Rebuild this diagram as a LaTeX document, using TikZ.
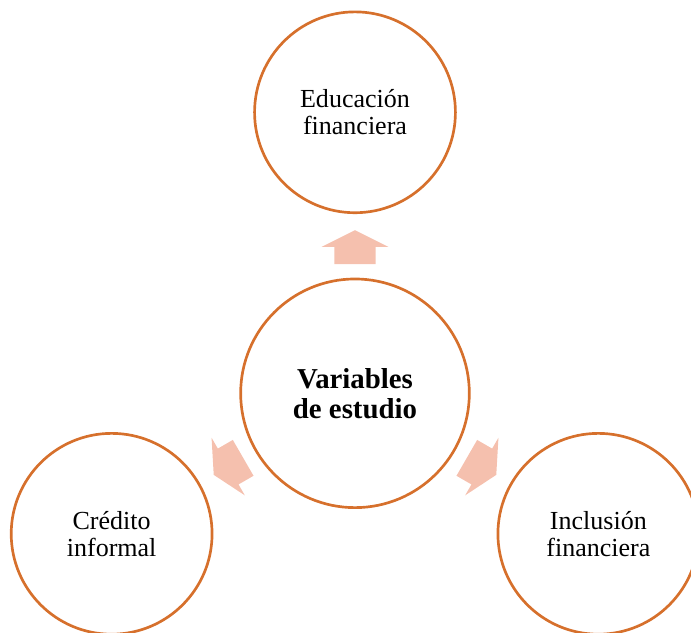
\documentclass[tikz,border=0pt]{standalone}
\usepackage{fontspec}
\setmainfont{Liberation Serif}
\usetikzlibrary{calc}

\definecolor{naranja}{RGB}{214,112,44}
\definecolor{salmon}{RGB}{245,192,174}

\tikzset{
  circulo/.style={circle, draw=naranja, line width=1.9pt, align=center,
    minimum size=5.02cm, font=\fontsize{18.5}{19.2}\selectfont},
  pics/flecha/.style={code={
    \fill[salmon] (-17,-20.7) -- (0.3,-20.7) -- (0.3,-33.3) -- (17,0)
      -- (0.3,33.3) -- (0.3,20.7) -- (-17,20.7) -- cycle;}}
}

\begin{document}
\begin{tikzpicture}[x=0.025cm, y=0.025cm]
\useasboundingbox (-355,-238.7) rectangle (336,393.3);
\clip (-355,-238.7) rectangle (336,393.3);
\node[circulo, minimum size=5.715cm, font=\fontsize{20.5}{21.3}\selectfont\bfseries]
  (V) at (0,0) {Variables\\de estudio};
\node[circulo] (E) at (90:281) {Educación\\financiera};
\node[circulo] (C) at (210:281) {Crédito\\informal};
\node[circulo] (I) at (330:281) {Inclusión\\financiera};
% flechas hacia cada variable
\pic[rotate=90] at ($(V)!0.52!(E)$) {flecha};
\pic[rotate=210] at ($(V)!0.52!(C)$) {flecha};
\pic[rotate=330] at ($(V)!0.52!(I)$) {flecha};
\end{tikzpicture}
\end{document}
